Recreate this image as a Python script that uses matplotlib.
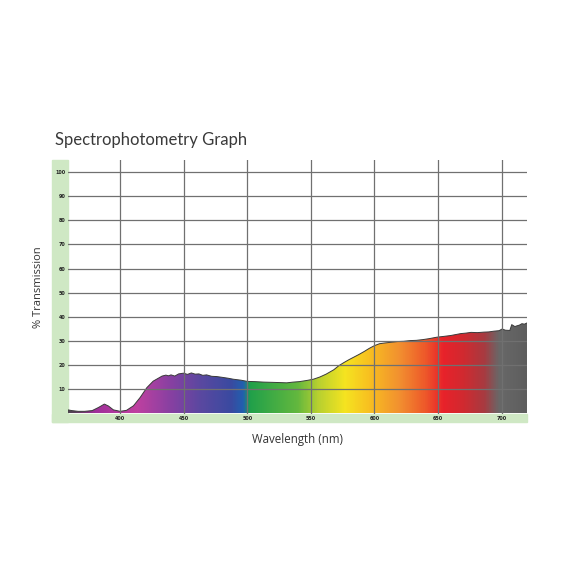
import matplotlib.pyplot as plt
import numpy as np
from matplotlib.colors import LinearSegmentedColormap
from matplotlib.patches import Rectangle

# transmission curve
wavelength = [359, 362, 367, 372, 378, 383, 387.6, 390.8, 394.7, 400, 405, 410.5, 415.7,
              421, 426, 430, 433, 436, 438, 440, 443, 446, 449.8, 453, 456, 459, 462,
              465, 468, 472, 476, 480, 485, 489, 495, 500, 506, 513, 520, 526, 531, 536,
              541, 547, 552, 557, 562, 568, 572, 576, 580, 584, 588, 592, 596, 600, 604,
              608, 613, 618, 623, 628, 633, 638, 643, 649, 654, 660, 664, 668, 672, 676,
              681, 686, 690, 694, 698, 700.5, 703, 706.5, 708, 710.5, 712, 714, 716, 718, 720]
transmission = [1.5, 1.2, 0.9, 0.9, 1.2, 2.5, 3.9, 3.1, 1.5, 0.9, 1.3, 3.2, 6.6,
                10.7, 13.4, 14.6, 15.5, 15.9, 15.6, 16.0, 15.5, 16.4, 16.7, 16.2, 16.8, 16.3, 16.4,
                15.8, 16.0, 15.4, 15.3, 15.0, 14.6, 14.2, 13.8, 13.3, 13.2, 13.0, 12.9, 12.8, 12.7, 13.0,
                13.2, 13.7, 14.2, 15.1, 16.3, 18.1, 19.8, 21.1, 22.3, 23.4, 24.5, 25.7, 27.0, 28.1, 28.9,
                29.2, 29.5, 29.8, 29.9, 30.2, 30.3, 30.6, 31.0, 31.6, 31.9, 32.3, 32.7, 33.1, 33.3, 33.6,
                33.5, 33.7, 33.8, 34.1, 34.3, 35.0, 34.5, 34.4, 36.8, 36.0, 36.3, 36.6, 37.2, 37.0, 37.5]

# spectrum colours along the wavelength axis
stop_nm = [359, 368, 380, 412, 438, 463, 487, 497, 502, 540, 556, 577, 596, 620,
           640, 655, 671, 687, 699, 720]
stop_colors = ['#4f4550', '#6a3a68', '#a0309a', '#c040a0', '#8a40a2', '#5a48a0',
               '#3a4aa0', '#2060b0', '#20a04a', '#64b83e', '#b8d030', '#f5e420',
               '#f8c020', '#f29030', '#ee5a2a', '#e8222a', '#d02a30', '#a83a40',
               '#686868', '#5e5e5e']

x_ticks = [400, 450, 500, 550, 600, 650, 700]
y_ticks = [10, 20, 30, 40, 50, 60, 70, 80, 90, 100]

W = 576
fig = plt.figure(figsize=(5.76, 5.76), dpi=100)
ax = fig.add_axes([68 / W, 1 - 413.5 / W, (527 - 68) / W, (413.5 - 160) / W])

# green strips behind the tick labels
strip = '#cfe8c4'
fig.patches.append(Rectangle((52 / W, 1 - 422 / W), 16 / W, 262 / W,
                             transform=fig.transFigure, color=strip, zorder=-1))
fig.patches.append(Rectangle((52 / W, 1 - 422 / W), 475 / W, 8.5 / W,
                             transform=fig.transFigure, color=strip, zorder=-1))

xmin, xmax = 359, 720
ymin, ymax = 0, 105
ax.set_xlim(xmin, xmax)
ax.set_ylim(ymin, ymax)

lo, hi = stop_nm[0], stop_nm[-1]
cmap = LinearSegmentedColormap.from_list(
    'spec', [((s - lo) / (hi - lo), c) for s, c in zip(stop_nm, stop_colors)])
grad = np.linspace(0, 1, 800).reshape(1, -1)
poly = ax.fill_between(wavelength, 0, transmission, color='none', lw=0)
img = ax.imshow(grad, cmap=cmap, aspect='auto', extent=(lo, hi, ymin, ymax),
                origin='lower', zorder=1)
clip = poly.get_paths()[0]
img.set_clip_path(clip, transform=ax.transData)
ax.plot(wavelength, transmission, color='#3a3a3a', lw=0.7, zorder=2)

for xt in x_ticks:
    ax.axvline(xt, color='#707070', lw=0.9, zorder=3)
for yt in y_ticks:
    ax.axhline(yt, color='#707070', lw=0.9, zorder=3)

ax.set_xticks(x_ticks)
ax.set_yticks(y_ticks)
ax.tick_params(length=0, labelsize=3.5, colors='#222222', pad=2)
ax.tick_params(axis='x', pad=1.5)
for lab in ax.get_xticklabels() + ax.get_yticklabels():
    lab.set_fontweight('bold')
for s in ax.spines.values():
    s.set_visible(False)
ax.set_facecolor('none')

ax.set_xlabel('Wavelength (nm)', fontsize=8.3, color='#333333',
              family='Open Sans', labelpad=9)
ax.set_ylabel('% Transmission', fontsize=8, color='#333333',
              family='Open Sans', labelpad=8)
fig.text(55 / W, 1 - 140 / W, 'Spectrophotometry Graph', fontsize=12,
         family='Lato', color='#3a3a3a', va='center', ha='left')

fig.savefig('out.png', dpi=100)
